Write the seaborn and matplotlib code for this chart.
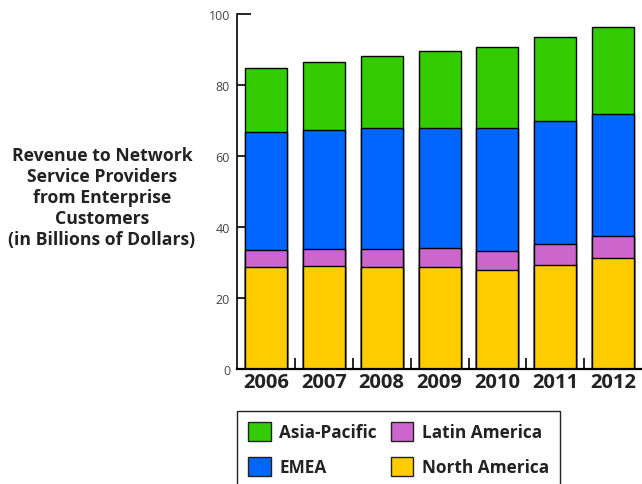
import numpy as np
import pandas as pd
import matplotlib
matplotlib.use("Agg")
import matplotlib.pyplot as plt
import seaborn as sns
from matplotlib.patches import Patch

# %%
years = ["2006", "2007", "2008", "2009", "2010", "2011", "2012"]
north_america = [28.6, 28.9, 28.7, 28.6, 27.8, 29.2, 31.4]
latin_america = [4.8, 4.9, 5.2, 5.4, 5.5, 5.9, 6.1]
emea = [33.4, 33.5, 34.0, 33.9, 34.6, 34.7, 34.4]
asia_pacific = [18.1, 19.3, 20.3, 21.6, 22.8, 23.6, 24.4]

regions = ["Asia-Pacific", "EMEA", "Latin America", "North America"]
colors = {"Asia-Pacific": "#33cc00", "EMEA": "#0066ff",
          "Latin America": "#cc66cc", "North America": "#ffcc00"}

# %%
df = pd.DataFrame({"year": years, "North America": north_america,
                   "Latin America": latin_america, "EMEA": emea,
                   "Asia-Pacific": asia_pacific})
# cumulative heights, bottom to top
stack = ["North America", "Latin America", "EMEA", "Asia-Pacific"]
cum = df[stack].cumsum(axis=1)

sns.set_style("ticks")
plt.rcParams["font.family"] = ["Open Sans", "DejaVu Sans"]

fig = plt.figure(figsize=(6.42, 4.85), dpi=100)
ax = fig.add_axes([237 / 642, 1 - 370 / 485, 404 / 642, 355 / 485])

# draw the tallest stack first, then each lower level on top of it
for reg in reversed(stack):
    sns.barplot(x=df["year"], y=cum[reg], color=colors[reg], width=0.725,
                edgecolor="black", linewidth=1, saturation=1, ax=ax)

ax.set_xlim(-0.5, 6.48)
ax.set_ylim(0, 100)
ax.set_yticks([0, 20, 40, 60, 80, 100])
ax.set_xlabel("")
ax.set_ylabel("")
for s in ["top", "right"]:
    ax.spines[s].set_visible(False)
ax.spines["left"].set_linewidth(1.2)
ax.spines["bottom"].set_linewidth(1.6)
ax.spines["left"].set_color("black")
ax.spines["bottom"].set_color("black")

ax.tick_params(axis="y", direction="in", length=10, width=1.2, pad=5,
               labelsize=9, labelcolor="#444444", color="black")
ax.tick_params(axis="x", which="major", length=0, pad=2, labelsize=14.5,
               labelcolor="#222222")
for lbl in ax.get_xticklabels():
    lbl.set_fontweight("bold")
ax.set_xticks(np.arange(0.5, 6, 1), minor=True)
ax.tick_params(axis="x", which="minor", direction="in", length=8, width=1.2,
               color="black")

fig.text(102 / 642, 1 - 198 / 485,
         "Revenue to Network\nService Providers\nfrom Enterprise\nCustomers\n(in Billions of Dollars)",
         ha="center", va="center", fontsize=12.7, fontweight="bold",
         color="#222222", linespacing=1.2)

handles = [Patch(facecolor=colors[r], edgecolor="#222222", linewidth=1) for r in regions]
leg = fig.legend(handles, regions, loc="upper left",
                 bbox_to_anchor=(237 / 642, 1 - 412 / 485), ncol=2,
                 frameon=True, fancybox=False, framealpha=1, edgecolor="#222222",
                 borderaxespad=0, borderpad=0.65, handlelength=1.3, handleheight=1.3,
                 handletextpad=0.5, columnspacing=0.8, labelspacing=0.92,
                 prop={"weight": "bold", "size": 12.4})
leg.get_frame().set_linewidth(1)
for t in leg.get_texts():
    t.set_color("#222222")

fig.savefig("out.png", dpi=100)
